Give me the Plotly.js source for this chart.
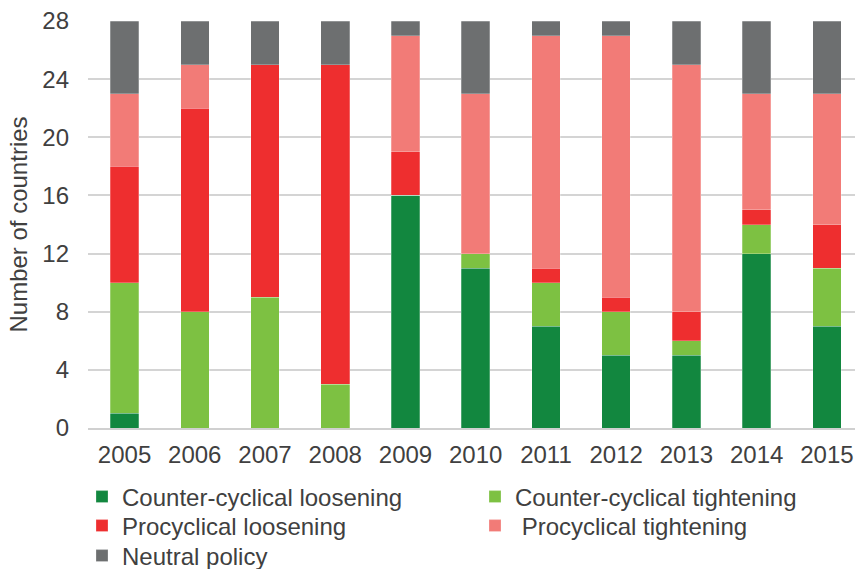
<!DOCTYPE html>
<html>
<head>
<meta charset="utf-8">
<script src="https://cdn.plot.ly/plotly-3.0.1.min.js"></script>
<style>html,body{margin:0;padding:0;background:#fff;}#chart{width:855px;height:569px;}</style>
</head>
<body>
<div id="chart"></div>
<script>
var years = ["2005","2006","2007","2008","2009","2010","2011","2012","2013","2014","2015"];
var counterLoosening  = [1, 0, 0, 0, 16, 11, 7, 5, 5, 12, 7];
var counterTightening = [9, 8, 9, 3, 0, 1, 3, 3, 1, 2, 4];
var proLoosening      = [8, 14, 16, 22, 3, 0, 1, 1, 2, 1, 3];
var proTightening     = [5, 3, 0, 0, 8, 11, 16, 18, 17, 8, 9];
var neutralPolicy     = [5, 3, 3, 3, 1, 5, 1, 1, 3, 5, 5];
var seriesNames = ["Counter-cyclical loosening", "Counter-cyclical tightening", "Procyclical loosening", " Procyclical tightening", "Neutral policy"];
var seriesColors = ["#12873F", "#7DC142", "#EE2E2F", "#F27B77", "#6D6F70"];
var seriesLegends = ["legend", "legend2", "legend3", "legend4", "legend5"];
var yTicks = [0, 4, 8, 12, 16, 20, 24, 28];

var seriesData = [counterLoosening, counterTightening, proLoosening, proTightening, neutralPolicy];
var traces = seriesData.map(function(vals, i) {
  return {
    type: "bar",
    name: seriesNames[i],
    legend: seriesLegends[i],
    x: years,
    y: vals,
    marker: {color: seriesColors[i], line: {color: "rgba(255,255,255,0.5)", width: 0.5}},
    hoverinfo: "x+y+name"
  };
});

var fontFam = "Liberation Sans, Arial, sans-serif";
var txt = "#404040";
function legendAt(x, y) {
  return {
    orientation: "h",
    xref: "container",
    yref: "container",
    x: x,
    xanchor: "left",
    y: y,
    yanchor: "middle",
    font: {family: fontFam, size: 24, color: txt},
    bgcolor: "rgba(0,0,0,0)"
  };
}
var colL = 82 / 855, colR = 475 / 855;
var row1 = 1 - 497 / 569, row2 = 1 - 526 / 569, row3 = 1 - 556 / 569;
var layout = {
  width: 855,
  height: 569,
  margin: {l: 88, r: 0, t: 21, b: 141},
  barmode: "stack",
  bargap: 0.594,
  paper_bgcolor: "#ffffff",
  plot_bgcolor: "#ffffff",
  font: {family: fontFam, size: 24, color: txt},
  xaxis: {
    type: "category",
    range: [-0.52, 10.40],
    showgrid: false,
    showline: true,
    linecolor: "#d0d0d0",
    linewidth: 2,
    ticks: "",
    ticklabelstandoff: 4,
    tickfont: {family: fontFam, size: 24, color: txt}
  },
  yaxis: {
    range: [0, 28],
    tickvals: yTicks,
    ticktext: yTicks.map(String),
    showgrid: true,
    gridcolor: "#d4d4d4",
    gridwidth: 2,
    zeroline: false,
    showline: false,
    ticks: "",
    ticklabelstandoff: 18,
    tickfont: {family: fontFam, size: 24, color: txt},
    title: {text: "Number of countries", font: {family: fontFam, size: 24, color: txt}, standoff: 7}
  },
  showlegend: true,
  legend: legendAt(colL, row1),
  legend2: legendAt(colR, row1),
  legend3: legendAt(colL, row2),
  legend4: legendAt(colR, row2),
  legend5: legendAt(colL, row3)
};

Plotly.newPlot("chart", traces, layout, {displayModeBar: false, staticPlot: true});
</script>
</body>
</html>
